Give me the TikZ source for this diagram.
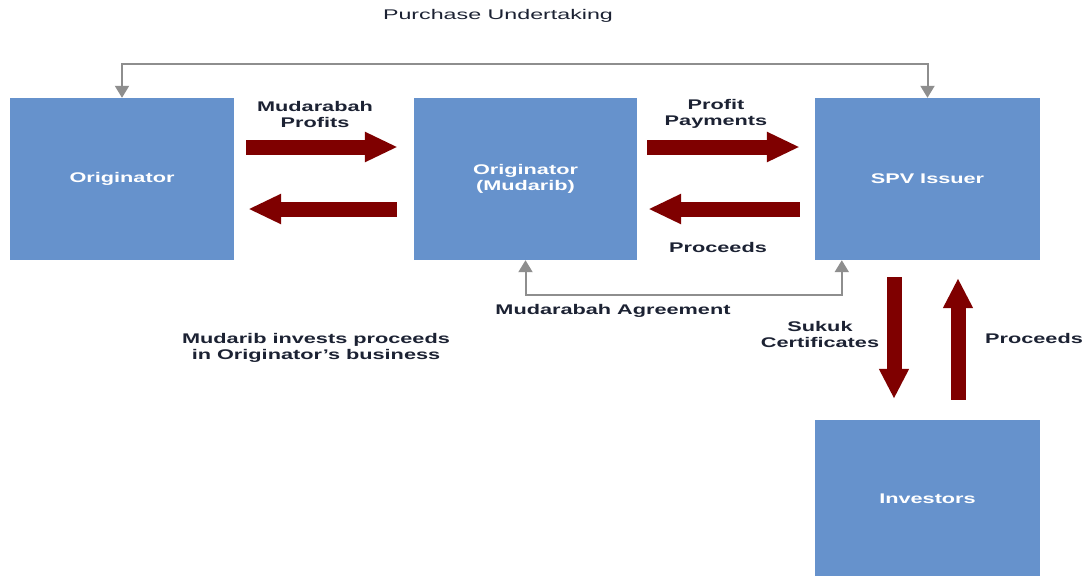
\documentclass[tikz,border=0pt]{standalone}
\usepackage{fontspec}
\usepackage{graphicx}
\setmainfont{Liberation Sans}
\usetikzlibrary{arrows.meta}
\definecolor{boxblue}{HTML}{6692CC}
\definecolor{flowred}{HTML}{7F0000}
\definecolor{linkgray}{HTML}{8E8E8E}
\definecolor{labelink}{HTML}{1C2233}
\newcommand{\wtxt}[1]{\scalebox{1.55}[1]{#1}}
\newcommand{\wwtxt}[1]{\scalebox{1.66}[1]{#1}}
\newcommand{\boxtxt}[1]{\raisebox{-3pt}{\scalebox{1.55}[1]{#1}}}
\tikzset{
  party/.style={fill=boxblue, draw=none, text=white, font=\fontsize{14}{16}\selectfont\bfseries, align=center},
  lbl/.style={text=labelink, font=\fontsize{14}{16}\selectfont\bfseries, align=center, inner sep=0pt},
  plainlbl/.style={text=labelink, font=\fontsize{14}{16}\selectfont, align=center, inner sep=0pt},
  flow/.style={draw=flowred, line width=15pt, -{Triangle[length=33pt, width=28pt]}},
  vflow/.style={draw=flowred, line width=15pt, -{Triangle[length=30pt, width=28pt]}},
  link/.style={draw=linkgray, line width=2pt,
    {Triangle[length=12pt, width=14pt]}-{Triangle[length=12pt, width=14pt]}},
}
\begin{document}
\begin{tikzpicture}[x=1pt, y=-1pt]
  \useasboundingbox (0,0) rectangle (1088,576);
  \fill[white] (0,0) rectangle (1088,576);

  % parties
  \node[party, minimum width=224pt, minimum height=162pt] (orig) at (122,179) {\boxtxt{Originator}};
  \node[party, minimum width=223pt, minimum height=162pt] (mud) at (525.5,179) {\boxtxt{Originator}\\\boxtxt{(Mudarib)}};
  \node[party, minimum width=225pt, minimum height=162pt] (spv) at (927.5,179) {\boxtxt{SPV Issuer}};
  \node[party, minimum width=225pt, minimum height=158pt] (inv) at (927.5,499) {\boxtxt{Investors}};

  % purchase undertaking link over the top
  \coordinate (ptop) at (500,64);
  \draw[link] (orig.north) -- (orig.north |- ptop) -| (spv.north);

  % mudarabah agreement link underneath
  \coordinate (mbot) at (680,295);
  \coordinate (spvfoot) at ([xshift=27pt]spv.south west);
  \draw[link] (mud.south) -- (mud.south |- mbot) -| (spvfoot);

  % cash flows between originator and mudarib
  \draw[flow] ([xshift=12pt, yshift=32pt]orig.east) -- ([xshift=-16pt, yshift=32pt]mud.west);
  \draw[flow] ([xshift=-17pt, yshift=-30pt]mud.west) -- ([xshift=14pt, yshift=-30pt]orig.east);

  % cash flows between mudarib and SPV
  \draw[flow] ([xshift=10pt, yshift=32pt]mud.east) -- ([xshift=-15pt, yshift=32pt]spv.west);
  \draw[flow] ([xshift=-15pt, yshift=-30pt]spv.west) -- ([xshift=11pt, yshift=-30pt]mud.east);

  % flows between SPV and investors
  \draw[vflow] ([xshift=-33.5pt, yshift=-17pt]spv.south) -- ([xshift=-33.5pt, yshift=21pt]inv.north);
  \draw[vflow] ([xshift=30.5pt, yshift=20pt]inv.north) -- ([xshift=30.5pt, yshift=-18pt]spv.south);

  % labels
  \node[plainlbl] (tpu) at (498,16) {\wwtxt{Purchase Undertaking}};
  \node[lbl] (tmp) at (315,114) {\wtxt{Mudarabah}\\\wtxt{Profits}};
  \node[lbl] (tpp) at (716,114) {\wtxt{Profit}\\\wtxt{Payments}};
  \node[lbl] (tpr) at (718,247) {\wtxt{Proceeds}};
  \node[lbl] (tma) at (613,311) {\wtxt{Mudarabah Agreement}};
  \node[lbl] (tmi) at (316,348) {\wtxt{Mudarib invests proceeds}\\\wtxt{in Originator's business}};
  \node[lbl] (tsc) at (820,334) {\wtxt{Sukuk}\\\wtxt{Certificates}};
  \node[lbl] (tip) at (1034,338) {\wtxt{Proceeds}};
\end{tikzpicture}
\end{document}
